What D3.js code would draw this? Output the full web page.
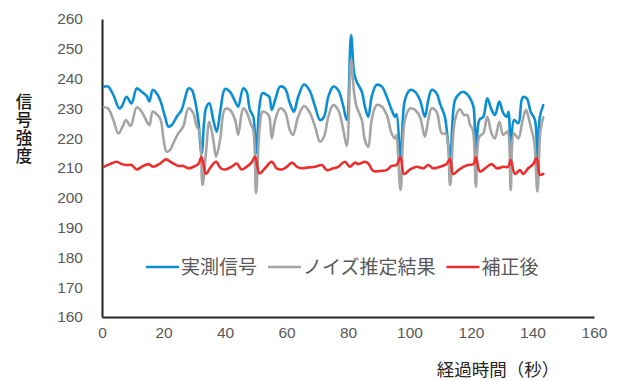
<!DOCTYPE html>
<html><head><meta charset="utf-8">
<script src="https://cdn.jsdelivr.net/npm/d3@7"></script>
<style>
html,body{margin:0;padding:0;background:#fff;}
svg{display:block;}
</style></head>
<body>
<svg id="chart" width="628" height="381"></svg>
<script>
// ---- data ----
const seriesNames = ["実測信号", "ノイズ推定結果", "補正後"];
const xTicks = [0, 20, 40, 60, 80, 100, 120, 140, 160];
const yTicks = [160, 170, 180, 190, 200, 210, 220, 230, 240, 250, 260];
const xTitle = "経過時間（秒）";
const yTitle = "信号強度";

const measuredTime = [0.6,2,3.7,5.6,6.4,8,9.6,11.3,12.9,14.5,15.4,16.5,17.6,18.9,20.5,21.6,22.7,24.3,25.9,27,28.1,29.2,30.2,31.3,32.4,33.8,34.9,36.2,37.3,38.6,40,41.6,43.3,44.3,45.9,47,48.1,49.2,50.1,51.2,52.2,53.6,54.4,55.2,56.3,57.9,59.5,61.1,62.4,63.8,65.7,67.4,69.3,70.9,72.2,73.6,75.2,76.8,78.5,79.6,81,82,82.8,84.5,85.5,86.6,87.7,89.3,91,92.6,94.2,95.3,95.8,97.1,98.5,100.2,101.8,103.4,105,106.1,107.2,108.8,109.9,111.5,113.2,114.8,116.4,117.5,118.5,119.7,120.8,121.6,122.7,124,125.3,126.7,127.8,129.2,130.5,131.6,132.2,132.9,134,135.4,136.8,138.1,139.4,140.8,141.6,142.4,143.5];
const measuredValues = [237.3,237.3,234.5,230,230.6,233.9,231.7,236.7,235.6,234.2,232.3,236.2,235.3,232.8,227.2,223.9,224.4,227.2,229.5,233.4,236.7,236.2,232.8,226.1,215,230,231.7,226.1,222.2,230,236.5,235.6,232.3,230.6,236.7,235.6,229.5,227.2,215,230.6,235.1,234.5,233.9,229.5,232.8,237.3,236.7,231.7,228.9,233.9,238,236.2,230.6,226.1,227.2,233.9,237.3,236.2,230.6,226.1,254.5,241.8,239,235.6,230.6,227.2,233.9,237.9,237.3,233.9,229.5,227.2,228,213,232.8,236.2,235.6,232.8,227.2,232.8,236.2,235.1,231.7,227.2,213.8,232.8,235.1,235.6,235,233.4,230.6,213.8,226.1,227.2,233.4,229.5,227.8,232.3,228.4,227.2,228.9,213.8,226.1,225,233.7,233.4,228.9,226.1,213.8,227.2,231.1];

const noiseTime = [0.6,2,3.7,5.3,6.7,7.8,9.3,11.3,12.9,13.9,15.4,16.5,18,19.1,19.9,21,22.1,23.2,24.8,26.4,28.1,29.7,30.8,31.6,32.7,33.8,34.9,36.2,37.1,38.4,40,41.6,43.3,44.3,45.9,47,48.3,49.2,50.1,51.2,52.2,53.6,54.4,55.2,56.3,57.9,59.5,61.1,62.1,63.8,65.7,67.4,69.3,70.9,72.2,73.6,75.2,76.8,78.5,79.6,81,82,82.8,84.5,85.5,86.6,87.7,89.3,91,92.6,94.2,95.3,95.7,97.1,98.5,100.2,101.8,103.4,105,106.1,107.2,108.8,110.5,111.8,113.2,114.8,116.4,117.7,118.8,119.7,120.6,121.6,122.7,124,125.3,126.7,127.8,129.2,130.5,131.8,132.9,134,135.4,136.8,137.9,139.4,140.5,141.6,142.6,143.5];
const noiseValues = [230.4,230,226.1,221.6,223.9,226.1,224.1,230.4,228.9,227,224.4,228.9,227.8,226.1,220.5,215.5,216,218.3,221.6,223.9,230,228.4,223.9,222.7,204.3,215,225.5,219.4,213.8,219.4,229.7,229.5,226.1,221.1,230,228.9,225,222.7,201.5,222.7,228.9,228.4,227.2,219.9,226.1,230,228.9,222.7,221.1,227.2,230.8,228.9,223.9,218.8,220.5,227.2,231.1,229.5,222.7,217.4,246.3,235.1,230.6,226.1,219.4,217.1,226.1,231.1,230.6,227.8,221.6,219.9,221,202.6,226.1,230,229.5,227.2,220.5,226.1,230,228.9,221.6,221.6,204.3,226.1,229.8,227.8,227.8,224.4,222.7,203.7,220.5,221.6,227.2,221.6,219.9,225.5,221.1,222.2,202.6,221.6,219.9,226.1,229.5,223.9,219.4,202.1,222.7,227];

const correctedTime = [0.6,2.6,4.8,6.4,8,9.6,11.3,12.9,15.1,16.7,18.9,20.8,22.7,24.8,26.4,28.1,29.7,31.3,32.4,33.8,35.1,37.1,38.6,40,42.1,43.8,45.4,47,48.6,49.8,51.2,53,55.2,56.8,58.5,60.1,61.8,63.4,65,67.2,69.3,71.5,73.1,75.2,76.8,79,80.6,82.3,83.4,85.5,86.6,88.2,90.4,92.6,94.2,95.8,97.1,98.2,100.2,102.3,104.5,106.1,107.7,109.9,112,113.2,114.2,115.9,117.5,119.1,120.8,121.6,122.9,124.6,126.7,128.4,130.5,132.1,132.9,134.3,135.9,137,138.6,140.2,141.4,142.4,143.5];
const correctedValues = [210.4,211.3,212.1,211.3,211,211,209.5,210.4,211.3,210.4,211.5,212.9,211.8,210.7,210.7,209.9,210.4,211.3,213.6,208,209.9,212.1,209.9,209.5,210.4,211.5,209.5,210.4,211.8,213.8,208.2,209.9,212.1,209.9,209.5,210.4,211.8,210.4,209.9,210.2,210.4,211,209.3,209.9,210.4,212.1,210.4,211.8,211.3,212.1,211.5,209,209,209.3,210.7,211,213.6,208,209.5,210.4,209.9,211,209.9,210.4,211.3,213,208,209.3,210.4,211,211.3,213.6,208.8,209.9,211.3,209.9,210.4,210.4,212.7,208,209.3,208,209.9,211.3,213.3,207.7,208];

const colors = ["#0b8fd4", "#a5a5a5", "#ee2c2c"];

// ---- chart ----
const svg = d3.select("#chart");
const x = d3.scaleLinear().domain([0, 160]).range([102, 594]);
const y = d3.scaleLinear().domain([160, 260]).range([317, 19]);

const numFont = "'Liberation Sans', Arial, sans-serif";
const cjkFont = "'Noto Sans CJK JP', 'Noto Sans', sans-serif";

// y axis
const yAxis = svg.append("g").attr("transform", "translate(102,0)")
  .call(d3.axisLeft(y).tickValues(yTicks).tickSize(0).tickPadding(19).tickFormat(d3.format("d")));
yAxis.select(".domain").attr("stroke", "#222").attr("stroke-width", 2);
yAxis.selectAll("text").attr("font-family", numFont).attr("font-size", 15.5).attr("fill", "#595959");

// x axis
const xAxis = svg.append("g").attr("transform", "translate(0,317)")
  .call(d3.axisBottom(x).tickValues(xTicks).tickSize(0).tickPadding(10).tickFormat(d3.format("d")));
xAxis.select(".domain").attr("stroke", "#222").attr("stroke-width", 2);
xAxis.selectAll("text").attr("font-family", numFont).attr("font-size", 15.5).attr("fill", "#595959");

// series
const series = [
  {name: seriesNames[0], t: measuredTime, v: measuredValues, color: colors[0]},
  {name: seriesNames[1], t: noiseTime, v: noiseValues, color: colors[1]},
  {name: seriesNames[2], t: correctedTime, v: correctedValues, color: colors[2]}
];
const line = d3.line()
  .x(d => x(d[0])).y(d => y(d[1]))
  .curve(d3.curveCatmullRom.alpha(0.5));
series.forEach(s => {
  const pts = s.t.map((t, i) => [t, s.v[i]]);
  svg.append("path").datum(pts)
    .attr("fill", "none").attr("stroke", s.color)
    .attr("stroke-width", 2.6).attr("stroke-linejoin", "round").attr("stroke-linecap", "round")
    .attr("d", line);
});

// legend
const legend = svg.append("g");
let lx = 146;
const ly = 267;
series.forEach(s => {
  legend.append("line").attr("x1", lx).attr("x2", lx + 33).attr("y1", ly).attr("y2", ly)
    .attr("stroke", s.color).attr("stroke-width", 2.6);
  const t = legend.append("text").attr("x", lx + 35).attr("y", ly)
    .attr("dy", "0.35em")
    .attr("font-family", cjkFont).attr("font-size", 19).attr("fill", "#595959")
    .text(s.name);
  lx += 35 + t.node().getComputedTextLength() + 11;
});

// y title (vertical writing)
svg.append("text").attr("x", 24).attr("y", 129)
  .attr("writing-mode", "vertical-rl").style("writing-mode", "vertical-rl")
  .attr("text-anchor", "middle").attr("letter-spacing", 1.5)
  .attr("font-family", cjkFont).attr("font-size", 16.5)
  .attr("fill", "#1a1a1a").attr("font-weight", 500)
  .text(yTitle);

// x title
svg.append("text").attr("x", 498).attr("y", 376)
  .attr("text-anchor", "middle").attr("font-family", cjkFont).attr("font-size", 17.5)
  .attr("fill", "#262626").text(xTitle);
</script>
</body></html>
